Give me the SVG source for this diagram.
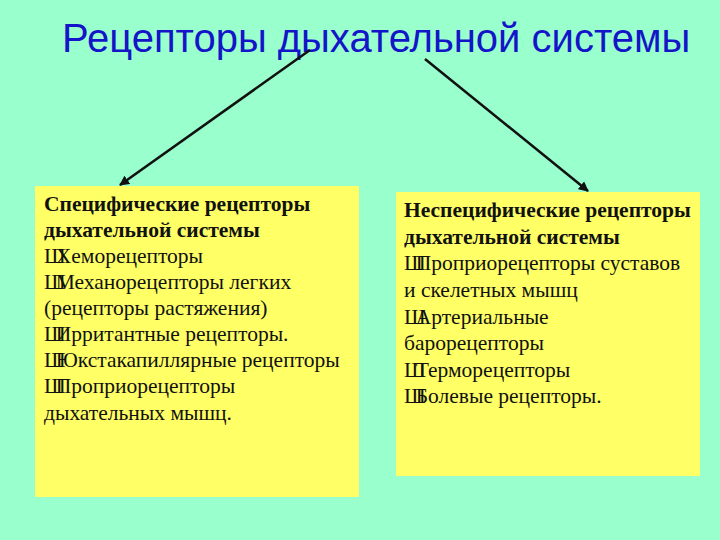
<svg xmlns="http://www.w3.org/2000/svg" width="720" height="540" viewBox="0 0 720 540">
<defs>
<style>
.title{font-family:"Liberation Sans",Arial,sans-serif;font-size:40px;fill:#1414C8}
.body{font-family:"Liberation Serif","Times New Roman",serif;font-size:21.5px;fill:#111}
.b{font-weight:bold}
.bl{letter-spacing:-10px}
.box{fill:#FFFF66}
.conn{stroke:#111;stroke-width:2.5;fill:none;marker-end:url(#ah)}
</style>
<marker id="ah" viewBox="0 0 10 10" refX="9" refY="5" markerWidth="4" markerHeight="4" orient="auto" markerUnits="strokeWidth">
<path d="M0,0 L10,5 L0,10 Z" fill="#111"/>
</marker>
</defs>
<rect width="720" height="540" fill="#99FFCC"/>
<g id="title">
<text class="title" x="62" y="52">Рецепторы дыхательной системы</text>
</g>
<g id="connectors">
<line class="conn" x1="310" y1="50" x2="120" y2="185"/>
<line class="conn" x1="425" y1="59" x2="588" y2="191"/>
</g>
<g id="specific">
<rect class="box" x="35" y="186" width="324" height="311"/>
<text class="body b" x="44" y="211">Специфические рецепторы</text>
<text class="body b" x="44" y="237">дыхательной системы</text>
<text class="body" x="44" y="263"><tspan class="bl">Ш</tspan>Хеморецепторы</text>
<text class="body" x="44" y="289"><tspan class="bl">Ш</tspan>Механорецепторы легких</text>
<text class="body" x="44" y="315">(рецепторы растяжения)</text>
<text class="body" x="44" y="341"><tspan class="bl">Ш</tspan>Ирритантные рецепторы.</text>
<text class="body" x="44" y="367"><tspan class="bl">Ш</tspan>Юкстакапиллярные рецепторы</text>
<text class="body" x="44" y="393"><tspan class="bl">Ш</tspan>Проприорецепторы</text>
<text class="body" x="44" y="420">дыхательных мышц.</text>
</g>
<g id="nonspecific">
<rect class="box" x="396" y="192" width="304" height="284"/>
<text class="body b" x="404" y="217">Неспецифические рецепторы</text>
<text class="body b" x="404" y="243.5">дыхательной системы</text>
<text class="body" x="404" y="270"><tspan class="bl">Ш</tspan>Проприорецепторы суставов</text>
<text class="body" x="404" y="297">и скелетных мышц</text>
<text class="body" x="404" y="323.5"><tspan class="bl">Ш</tspan>Артериальные</text>
<text class="body" x="404" y="350">барорецепторы</text>
<text class="body" x="404" y="376.5"><tspan class="bl">Ш</tspan>Терморецепторы</text>
<text class="body" x="404" y="403"><tspan class="bl">Ш</tspan>Болевые рецепторы.</text>
</g>
</svg>
